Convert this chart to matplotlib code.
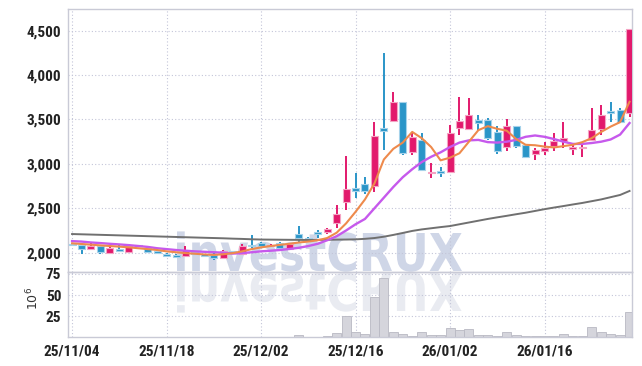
import matplotlib
matplotlib.use("Agg")
import matplotlib.pyplot as plt
import numpy as np
from matplotlib.textpath import TextPath
from matplotlib.patches import PathPatch
from matplotlib.font_manager import FontProperties
from matplotlib.transforms import Affine2D, IdentityTransform
from matplotlib.ticker import FuncFormatter

dates = ["25/11/04", "25/11/05", "25/11/06", "25/11/07", "25/11/10", "25/11/11", "25/11/12",
         "25/11/13", "25/11/14", "25/11/17", "25/11/18", "25/11/19", "25/11/20", "25/11/21",
         "25/11/24", "25/11/25", "25/11/26", "25/11/27", "25/11/28", "25/12/01", "25/12/02",
         "25/12/03", "25/12/04", "25/12/05", "25/12/08", "25/12/09", "25/12/10", "25/12/11",
         "25/12/12", "25/12/15", "25/12/16", "25/12/17", "25/12/18", "25/12/19", "25/12/22",
         "25/12/23", "25/12/24", "25/12/26", "25/12/29", "25/12/30", "26/01/02", "26/01/05",
         "26/01/06", "26/01/07", "26/01/08", "26/01/09", "26/01/12", "26/01/13", "26/01/14",
         "26/01/15", "26/01/16", "26/01/19", "26/01/20", "26/01/21", "26/01/22", "26/01/23",
         "26/01/26", "26/01/27", "26/01/28", "26/01/29"]

opens = [2090, 2087, 2042, 2079, 1997, 2045, 2011, 2080, 2052, 2019,
         1989, 1970, 1958, 2012, 1982, 1975, 1945, 2005, 1990, 2082,
         2112, 2078, 2108, 2045, 2207, 2165, 2220, 2228, 2330, 2575,
         2732, 2773, 2755, 3405, 3486, 3697, 3137, 3270, 2895, 2925,
         2910, 3400, 3390, 3495, 3495, 3360, 3185, 3425, 3210, 3110,
         3150, 3200, 3260, 3165, 3180, 3270, 3390, 3585, 3605, 3576]
highs = [2100, 2090, 2106, 2085, 2087, 2094, 2094, 2088, 2060, 2022,
         1995, 1985, 2071, 2020, 1985, 2012, 2025, 2012, 2095, 2198,
         2125, 2100, 2115, 2105, 2305, 2180, 2255, 2283, 2540, 3090,
         2894, 2856, 3475, 4245, 3805, 3697, 3360, 3350, 3005, 2960,
         3440, 3750, 3740, 3550, 3515, 3425, 3510, 3430, 3215, 3180,
         3250, 3345, 3475, 3225, 3230, 3635, 3660, 3695, 3625, 4515]
lows = [2075, 1982, 2038, 1989, 1995, 2011, 2008, 2070, 2000, 1982,
        1955, 1945, 1955, 1980, 1950, 1922, 1940, 1995, 1985, 2050,
        2050, 2070, 2045, 2040, 2110, 2115, 2170, 2215, 2275, 2480,
        2612, 2661, 2680, 3155, 3480, 3095, 3095, 2915, 2840, 2855,
        2895, 3325, 3380, 3380, 3265, 3110, 3150, 3180, 3065, 3045,
        3100, 3150, 3175, 3100, 3075, 3260, 3325, 3470, 3455, 3531]
closes = [2082, 2041, 2079, 2005, 2056, 2019, 2079, 2075, 2005, 1997,
          1960, 1948, 2027, 1985, 1960, 1937, 2020, 2000, 2079, 2075,
          2075, 2088, 2050, 2095, 2170, 2131, 2215, 2265, 2440, 2715,
          2698, 2698, 3315, 3375, 3697, 3126, 3300, 2930, 2910, 2895,
          3345, 3480, 3550, 3465, 3288, 3148, 3425, 3205, 3080, 3155,
          3175, 3260, 3290, 3195, 3190, 3380, 3550, 3578, 3475, 4515]

ma_short = [2105, 2098, 2090, 2082, 2075, 2068, 2060, 2050, 2040, 2030,
            2015, 2005, 1995, 1988, 1980, 1975, 1982, 1995, 2015, 2040,
            2060, 2075, 2088, 2100, 2115, 2125, 2140, 2165, 2225, 2330,
            2460, 2600, 2780, 3050, 3170, 3240, 3360, 3290, 3190, 3040,
            3070, 3120, 3250, 3380, 3425, 3395, 3374, 3280, 3215, 3210,
            3195, 3185, 3200, 3215, 3245, 3290, 3360, 3420, 3470, 3700]
ma_mid = [2130, 2125, 2115, 2108, 2100, 2093, 2085, 2075, 2065, 2050,
          2040, 2030, 2022, 2015, 2010, 2005, 2000, 1990, 1995, 2005,
          2015, 2022, 2030, 2042, 2055, 2075, 2100, 2140, 2185, 2250,
          2320, 2380, 2500, 2620, 2740, 2850, 2940, 3020, 3080, 3130,
          3190, 3240, 3265, 3270, 3245, 3240, 3250, 3270, 3305, 3320,
          3305, 3280, 3250, 3225, 3225, 3235, 3250, 3275, 3330, 3460]
ma_long = [2210, 2207, 2204, 2201, 2198, 2195, 2192, 2189, 2186, 2183,
           2180, 2177, 2174, 2171, 2168, 2165, 2162, 2158, 2155, 2151,
           2148, 2147, 2146, 2145, 2144, 2143, 2144, 2145, 2147, 2148,
           2150, 2156, 2165, 2180, 2200, 2222, 2245, 2262, 2275, 2288,
           2300, 2320, 2340, 2360, 2380, 2398, 2415, 2433, 2450, 2470,
           2490, 2508, 2525, 2543, 2560, 2580, 2600, 2625, 2650, 2695]

volume = [0.5, 0.5, 0.4, 0.5, 0.4, 0.4, 0.5, 0.3, 0.4, 0.4,
          0.5, 0.4, 0.5, 0.4, 0.4, 0.5, 0.5, 0.4, 0.6, 1.0,
          0.6, 0.5, 0.6, 0.7, 2.7, 1.0, 1.0, 1.2, 5.5, 25.0,
          6.7, 4.7, 47.7, 70.0, 6.7, 4.7, 2.3, 6.2, 3.5, 3.5,
          11.3, 9.4, 10.2, 3.5, 3.5, 2.3, 6.7, 3.5, 1.5, 1.5,
          1.5, 1.5, 4.7, 2.3, 2.3, 12.5, 6.7, 4.7, 2.8, 30.0]

tick_idx = [0, 10, 20, 30, 40, 50]
price_ticks = [2000, 2500, 3000, 3500, 4000, 4500]
vol_ticks = [25, 50, 75]

UP = "#E2196C"
DOWN = "#2A95C8"
GRID = "#C3C5D8"
SPINE = "#C9CAD6"

plt.rcParams['font.family'] = ['Roboto Condensed', 'Roboto', 'DejaVu Sans']

fig = plt.figure(figsize=(6.42, 3.66), dpi=100)
fig.patch.set_facecolor("white")

# watermark
fp = FontProperties(family='DejaVu Sans', weight='bold')
tp = TextPath((0, 0), 'investCRUX', size=1, prop=fp)
ext = tp.get_extents()
cap = TextPath((0, 0), 'X', size=1, prop=fp).get_extents().ymax
sx = (462 - 177) / ext.width
sy = (271 - 233) / cap
tr = Affine2D().translate(-ext.xmin, 0).scale(sx, sy).translate(177, 366 - 271)
fig.add_artist(PathPatch(tr.transform_path(tp), facecolor='#C4CCE2', edgecolor='none',
                         alpha=0.8, transform=IdentityTransform(), zorder=-1))
tr2 = Affine2D().translate(-ext.xmin, 0).scale(sx, -sy).translate(177, 366 - 273)
fig.add_artist(PathPatch(tr2.transform_path(tp), facecolor='#E0E3EC', edgecolor='none',
                         alpha=0.7, transform=IdentityTransform(), zorder=-1))

ax = fig.add_axes([0.1064, 0.256, 0.8786, 0.7186])
axv = fig.add_axes([0.1064, 0.0779, 0.8786, 0.1781], sharex=ax)
for a in (ax, axv):
    a.set_facecolor('none')
    for s in a.spines.values():
        s.set_color(SPINE)
        s.set_linewidth(1.0)
    a.grid(True, color=GRID, linestyle=(0, (1, 2)), linewidth=0.8)
    a.set_axisbelow(True)
    a.tick_params(length=0, colors='#222222', labelsize=11)

x = np.arange(len(dates))
o = np.array(opens, float); c = np.array(closes, float)
h = np.array(highs, float); l = np.array(lows, float)
up = c >= o
cols = np.where(up, UP, DOWN)
edge = np.where(up, '#F4A3C3', '#A5D2EA')

ax.vlines(x, l, h, colors=cols, linewidth=1.4, zorder=2)
bottom = np.minimum(o, c)
height = np.maximum(np.abs(c - o), 14)
ax.bar(x, height, bottom=bottom, width=0.74, color=cols, edgecolor=edge,
       linewidth=0.8, zorder=3)

ax.plot(x, ma_long, color='#707070', linewidth=1.4, zorder=4)
ax.plot(x, ma_mid, color='#C659EC', linewidth=1.7, zorder=4)
ax.plot(x, ma_short, color='#EE8A4C', linewidth=1.5, zorder=5)

ax.set_ylim(1779, 4741)
ax.set_yticks(price_ticks)
ax.yaxis.set_major_formatter(FuncFormatter(lambda v, p: f"{int(v):,}"))
ax.set_xlim(-0.4, 59.3)
ax.set_xticks(tick_idx)
plt.setp(ax.get_xticklabels(), visible=False)

axv.bar(x, volume, width=0.95, color='#D5D5DC', edgecolor='#B9B9C3', linewidth=0.6, zorder=2)
axv.set_ylim(0, 77)
axv.set_yticks(vol_ticks)
axv.set_xticks(tick_idx)
axv.set_xticklabels([dates[i] for i in tick_idx])
for t in ax.get_yticklabels() + axv.get_yticklabels() + axv.get_xticklabels():
    t.set_fontweight('bold')
ax.tick_params(axis='y', pad=5)
axv.tick_params(axis='y', pad=5)
axv.tick_params(axis='x', pad=5)

fig.text(0.052, 0.185, r'$10^{6}$', rotation=90, fontsize=9, color='#333333',
         ha='center', va='center', family='DejaVu Sans')

fig.savefig('out.png', dpi=100, facecolor='white')
